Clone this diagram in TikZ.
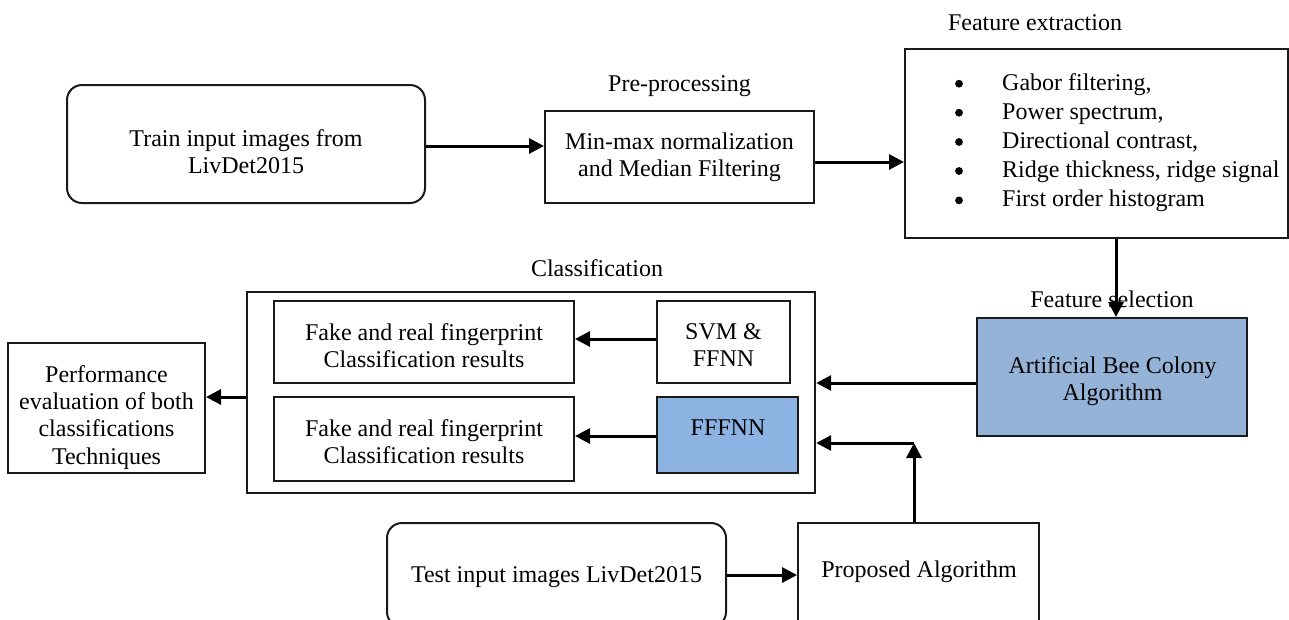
\documentclass[tikz,border=0pt]{standalone}
\usepackage{fontspec}
\setmainfont{Liberation Serif}
\usetikzlibrary{arrows.meta}
\definecolor{abcblue}{HTML}{95B3D7}
\definecolor{netblue}{HTML}{8DB3E2}
\definecolor{edge}{HTML}{1A1A1A}
\begin{document}
\begin{tikzpicture}[x=1pt,y=-1pt,
  box/.style={draw=edge, line width=2pt, inner sep=0pt},
  rbox/.style={box, rounded corners=15pt},
  txt/.style={font=\fontsize{24}{27.2}\selectfont, align=center, inner sep=0pt},
  lbl/.style={font=\fontsize{24}{27.2}\selectfont, inner sep=0pt, text height=16.4pt, text depth=5.2pt},
  dot/.style={circle, fill=black, inner sep=0pt, minimum size=7.8pt},
  arr/.style={draw=black, line width=3pt, -{Triangle[length=15pt,width=15pt]}},
]
\useasboundingbox (0,0) rectangle (1289,619);

% training branch
\node[rbox, minimum width=358pt, minimum height=118pt] (train) at (246,144) {};
\node[txt] (traint) at (246,152) {Train input images from\\LivDet2015};

\node[lbl] (prelbl) at (679.5,86.1) {Pre-processing};
\node[box, minimum width=269pt, minimum height=92pt] (pre) at (679.5,157) {};
\node[txt] (pret) at (679.5,157.2) {Min-max normalization\\and Median Filtering};

\node[lbl] (felbl) at (1035,24.4) {Feature extraction};
\node[box, minimum width=383pt, minimum height=189pt] (fe) at (1096.5,143.5) {};
\foreach \i/\yb/\t in {1/90/{Gabor filtering,},
                       2/119/{Power spectrum,},
                       3/148.3/{Directional contrast,},
                       4/177.3/{Ridge thickness, ridge signal},
                       5/206.7/{First order histogram}}
{
  \node[dot] (fb\i) at (959,\yb-6.3) {};
  \node[lbl, anchor=base west] (fe\i) at (1002,\yb) {\t};
}

% feature selection
\node[box, fill=abcblue, minimum width=270pt, minimum height=118pt] (abc) at (1112,377) {};
\node[txt] (abct) at (1112.5,381.2) {Artificial Bee Colony\\Algorithm};
\node[lbl] (fslbl) at (1112,301.7) {Feature selection};

% classification block
\node[lbl] (clslbl) at (597,270.5) {Classification};
\node[box, line width=2.4pt, minimum width=568pt, minimum height=201pt] (outer) at (531,392.5) {};
\node[box, minimum width=300pt, minimum height=82pt] (res1) at (424,342) {};
\node[txt] (res1t) at (424,346) {Fake and real fingerprint\\Classification results};
\node[box, minimum width=300pt, minimum height=84pt] (res2) at (424,439) {};
\node[txt] (res2t) at (424,442) {Fake and real fingerprint\\Classification results};
\node[box, minimum width=133pt, minimum height=82pt] (svm) at (723.5,342) {};
\node[txt] (svmt) at (723.5,345.4) {SVM \&\\FFNN};
\node[box, fill=netblue, minimum width=141pt, minimum height=76pt] (fffnn) at (727.5,435) {};
\node[lbl] (fffnnt) at (728,430.1) {FFFNN};

\node[box, minimum width=197pt, minimum height=130pt] (perf) at (106.5,408) {};
\node[txt] (perft) at (106.5,417.4) {Performance\\evaluation of both\\classifications\\Techniques};

% testing branch
\node[rbox, minimum width=339pt, minimum height=104pt] (test) at (556.5,575) {};
\node[lbl] (testt) at (556.5,577) {Test input images LivDet2015};
\node[box, minimum width=241pt, minimum height=104pt] (prop) at (918.5,575) {};
\node[lbl] (propt) at (919,571.7) {Proposed Algorithm};

% connectors
\draw[arr] (train.east |- 0,146) -- (pre.west |- 0,146);
\draw[arr] (pre.east |- 0,162) -- (fe.west |- 0,162);
\draw[arr] (fe.south -| 1116,0) -- (abc.north -| 1116,0);
\draw[arr] (abc.west |- 0,383) -- (outer.east |- 0,383);
\draw[arr] (svm.west |- 0,339) -- (res1.east |- 0,339);
\draw[arr] (fffnn.west |- 0,436) -- (res2.east |- 0,436);
\draw[arr] (outer.west |- 0,397) -- (perf.east |- 0,397);
\draw[arr] (test.east |- 0,575) -- (prop.west |- 0,575);
\coordinate (bend) at (914,443);
\draw[arr] (prop.north -| bend) -- (bend);
\draw[arr] (bend) -- (outer.east |- bend);
\end{tikzpicture}
\end{document}
